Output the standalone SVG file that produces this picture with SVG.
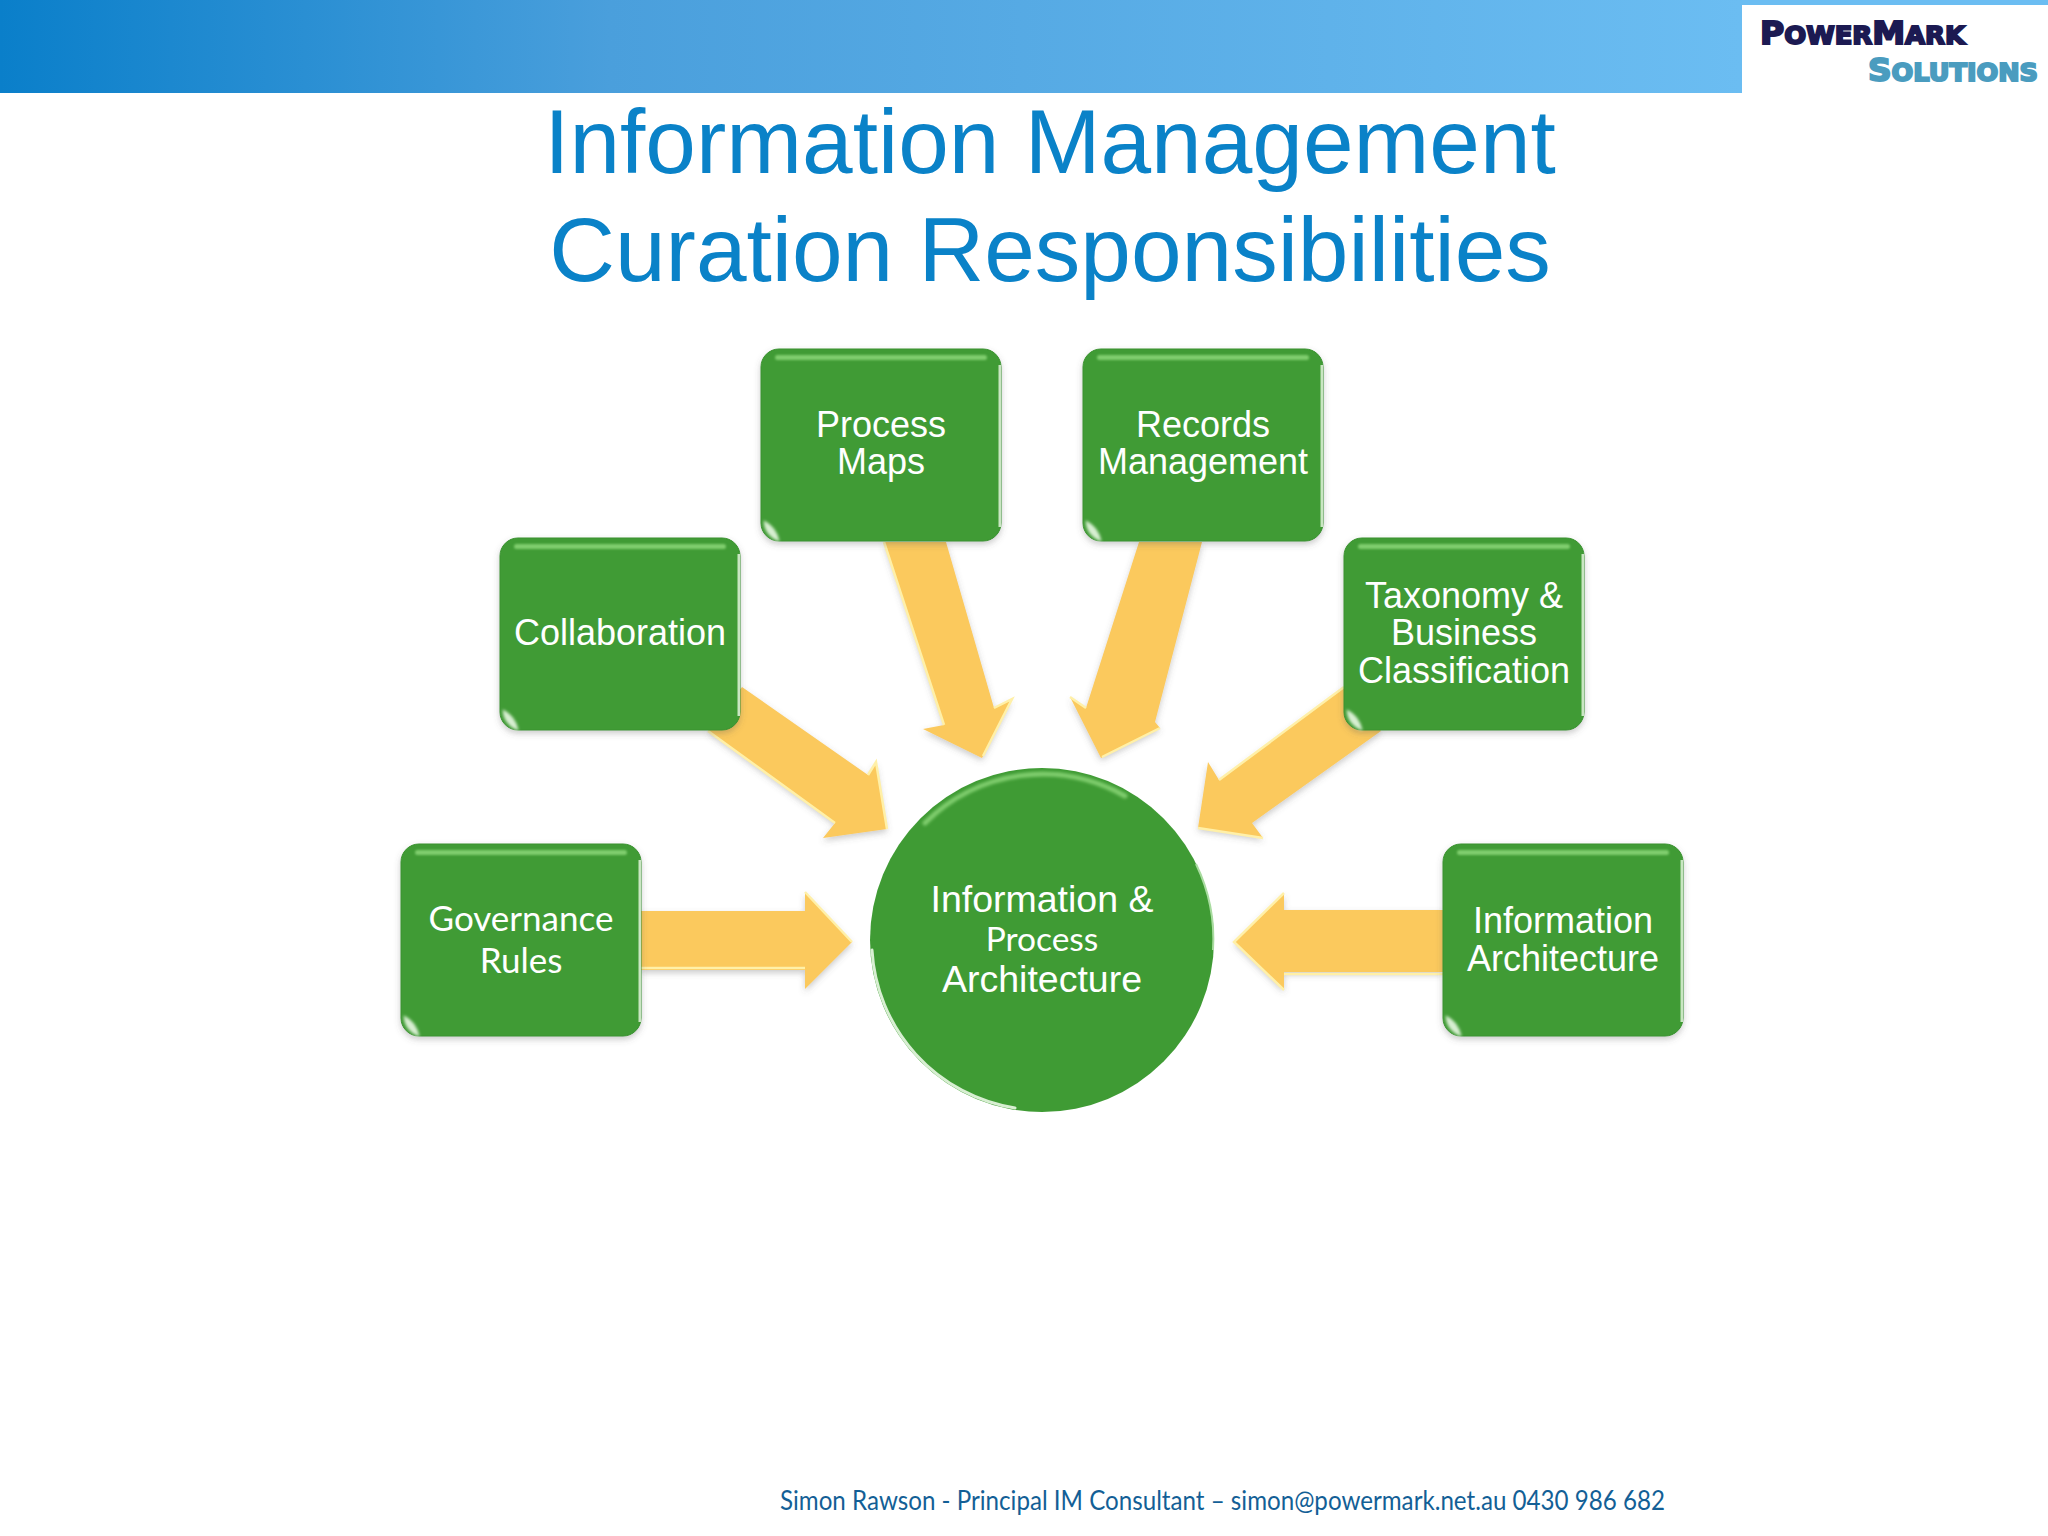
<svg xmlns="http://www.w3.org/2000/svg" xmlns:xlink="http://www.w3.org/1999/xlink" width="2048" height="1536" viewBox="0 0 2048 1536">
<defs>
<linearGradient id="hdr" gradientUnits="userSpaceOnUse" x1="0" x2="1742" y1="0" y2="0"><stop offset="0" stop-color="#0a7fca"/><stop offset="0.35" stop-color="#4a9fdc"/><stop offset="1" stop-color="#6bbdf2"/></linearGradient>
<filter id="soft" x="-10%" y="-10%" width="120%" height="125%"><feDropShadow dx="0" dy="3" stdDeviation="3" flood-color="#555" flood-opacity="0.3"/></filter>
<filter id="blur1" x="-20%" y="-200%" width="140%" height="500%"><feGaussianBlur stdDeviation="1.2"/></filter>
<filter id="blur2" x="-30%" y="-30%" width="160%" height="160%"><feGaussianBlur stdDeviation="1.5"/></filter>
<g id="shine">
<rect x="14" y="6" width="212" height="5" rx="2.5" fill="#7fcd6d" filter="url(#blur1)"/>
<rect x="237.5" y="16" width="2.5" height="162" fill="#c9e6c2"/>
<path d="M3 172Q4 187 18 192Q15 178 3 172Z" fill="#d8efd2" stroke="#d8efd2" stroke-width="1" filter="url(#blur2)"/>
</g>
</defs>
<style>
.bg{fill:#fff}
.box{fill:#3f9b34;stroke:#3a9230;stroke-width:1}
.arrow{fill:#fbc95d}
.lit{fill:none;stroke:#fff0a8;stroke-width:2.5;stroke-linejoin:miter}
.lbl{font-family:"Liberation Sans",Arial,sans-serif;font-size:36px;fill:#fff;text-anchor:middle}
.hub{font-size:37.5px}
.lat{font-family:Lato,"Noto Sans",sans-serif;font-size:35px;fill:#fff;text-anchor:middle}
.title{font-family:"Liberation Sans",Arial,sans-serif;font-size:91px;fill:#0a82c8;text-anchor:middle}
.foot{font-family:Lato,"Noto Sans",sans-serif;font-size:26px;fill:#135f96}
.logo{font-family:"DejaVu Sans",sans-serif;font-weight:bold}
</style>
<rect class="bg" width="2048" height="1536"/>
<g id="header">
<rect width="2048" height="93" fill="url(#hdr)"/>
<rect x="1742" y="5" width="306" height="88" fill="#fff"/>
</g>
<g id="logo">
<text class="logo" x="1760" y="44" font-size="32" fill="#1c1a52" stroke="#1c1a52" stroke-width="2" textLength="205" lengthAdjust="spacingAndGlyphs">P<tspan font-size="25">OWER</tspan>M<tspan font-size="25">ARK</tspan></text>
<text class="logo" x="1868" y="81" font-size="32" fill="#4a9cbf" stroke="#4a9cbf" stroke-width="2" textLength="170" lengthAdjust="spacingAndGlyphs">S<tspan font-size="25">OLUTIONS</tspan></text>
</g>
<g id="title">
<text class="title" x="1050" y="173">Information Management</text>
<text class="title" x="1050" y="281">Curation Responsibilities</text>
</g>
<g id="connectors">
<polygon class="arrow" points="884,542 946,542 994,708 1012,699 982,758 923,729 944,725" filter="url(#soft)"/>
<path class="lit" d="M884 542L944 725M994 708L1012 699L983 756"/>
<polygon class="arrow" points="742,687 868,775 876,762 887,829 823,838 835,823 708,731" filter="url(#soft)"/>
<path class="lit" d="M708 731L835 823M868 775L876 762L887 829"/>
<polygon class="arrow" points="1139,542 1202,542 1155,722 1160,728 1101,758 1070,697 1086,708" filter="url(#soft)"/>
<path class="lit" d="M1160 728L1102 757M1070 697L1086 708"/>
<polygon class="arrow" points="1344,687 1219,780 1208,762 1198,828 1263,838 1252,823 1381,731" filter="url(#soft)"/>
<path class="lit" d="M1198 828L1263 838M1219 780L1344 687"/>
<polygon class="arrow" points="640,911 805,911 805,892 852,942 805,989 805,970 640,970" filter="url(#soft)"/>
<path class="lit" d="M640 968H805M805 892L852 942"/>
<polygon class="arrow" points="1443,910 1284,910 1284,893 1234,942 1284,990 1284,972 1443,972" filter="url(#soft)"/>
<path class="lit" d="M1284 893L1234 942L1284 990M1284 974H1443"/>
</g>
<g id="node-process-maps">
<rect class="box" x="761" y="349" width="240" height="192" rx="18" filter="url(#soft)"/>
<use xlink:href="#shine" href="#shine" x="761" y="349"/>
<text class="lbl" x="881" y="437">Process</text>
<text class="lbl" x="881" y="474">Maps</text>
</g>
<g id="node-records-management">
<rect class="box" x="1083" y="349" width="240" height="192" rx="18" filter="url(#soft)"/>
<use xlink:href="#shine" href="#shine" x="1083" y="349"/>
<text class="lbl" x="1203" y="437">Records</text>
<text class="lbl" x="1203" y="474">Management</text>
</g>
<g id="node-collaboration">
<rect class="box" x="500" y="538" width="240" height="192" rx="18" filter="url(#soft)"/>
<use xlink:href="#shine" href="#shine" x="500" y="538"/>
<text class="lbl" x="620" y="645">Collaboration</text>
</g>
<g id="node-taxonomy">
<rect class="box" x="1344" y="538" width="240" height="192" rx="18" filter="url(#soft)"/>
<use xlink:href="#shine" href="#shine" x="1344" y="538"/>
<text class="lbl" x="1464" y="608">Taxonomy &amp;</text>
<text class="lbl" x="1464" y="645">Business</text>
<text class="lbl" x="1464" y="683">Classification</text>
</g>
<g id="node-governance-rules">
<rect class="box" x="401" y="844" width="240" height="192" rx="18" filter="url(#soft)"/>
<use xlink:href="#shine" href="#shine" x="401" y="844"/>
<text class="lat" x="521" y="931">Governance</text>
<text class="lat" x="521" y="973">Rules</text>
</g>
<g id="node-information-architecture">
<rect class="box" x="1443" y="844" width="240" height="192" rx="18" filter="url(#soft)"/>
<use xlink:href="#shine" href="#shine" x="1443" y="844"/>
<text class="lbl" x="1563" y="933">Information</text>
<text class="lbl" x="1563" y="971">Architecture</text>
</g>
<g id="node-hub">
<circle cx="1042" cy="940" r="172" fill="#3f9b34"/>
<path d="M925 823A166 166 0 0 1 1125 796" fill="none" stroke="#7fcd6d" stroke-width="5" stroke-linecap="round" filter="url(#blur2)"/>
<path d="M872 950A170 170 0 0 0 1015 1108" fill="none" stroke="#d8efd2" stroke-width="3" stroke-linecap="round"/>
<path d="M1196 864A172 172 0 0 1 1213 950" fill="none" stroke="#a9dca0" stroke-width="2"/>
<text class="lbl hub" x="1042" y="912">Information &amp;</text>
<text class="lat" x="1042" y="951" style="font-size:33.5px">Process</text>
<text class="lbl hub" x="1042" y="992">Architecture</text>
</g>
<g id="footer">
<text class="foot" x="780" y="1510" textLength="885" lengthAdjust="spacingAndGlyphs">Simon Rawson - Principal IM Consultant – simon@powermark.net.au 0430 986 682</text>
</g>
</svg>
